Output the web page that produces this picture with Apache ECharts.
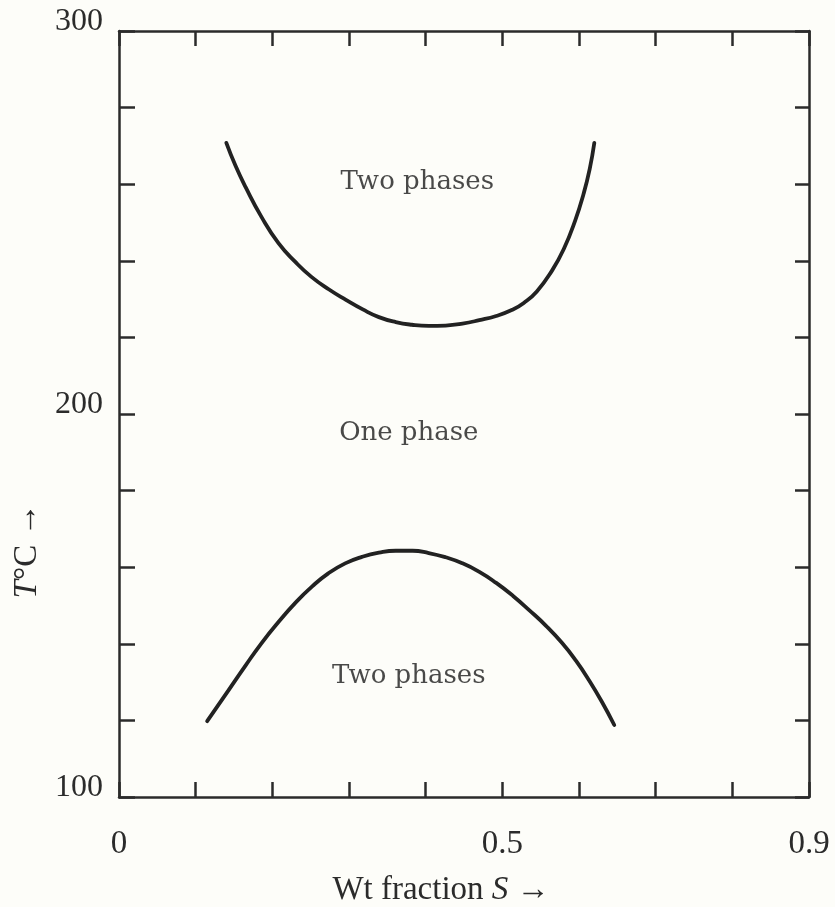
<!DOCTYPE html>
<html>
<head>
<meta charset="utf-8">
<script src="https://cdn.jsdelivr.net/npm/echarts@6/dist/echarts.min.js"></script>
<style>
html,body{margin:0;padding:0;background:#fdfdf9;}
#chart{width:835px;height:907px;}
</style>
</head>
<body>
<div id="chart"></div>
<script>
// Upper boundary (two phases above)
var upperS = [0.140, 0.152, 0.165, 0.186, 0.208, 0.230, 0.251, 0.274, 0.296, 0.318, 0.339, 0.361, 0.382, 0.404, 0.426, 0.448, 0.470, 0.492, 0.513, 0.528, 0.545, 0.565, 0.580, 0.595, 0.606, 0.614, 0.620];
var upperT = [270.8, 264.8, 259.3, 251.4, 244.6, 239.7, 235.8, 232.5, 229.8, 227.3, 225.3, 224.0, 223.3, 223.0, 223.1, 223.6, 224.5, 225.6, 227.2, 229.0, 232.0, 237.5, 243.0, 250.5, 257.5, 264.0, 270.8];
// Lower boundary (two phases below)
var lowerS = [0.115, 0.143, 0.165, 0.186, 0.208, 0.230, 0.252, 0.273, 0.295, 0.317, 0.339, 0.361, 0.383, 0.404, 0.426, 0.447, 0.470, 0.492, 0.514, 0.535, 0.557, 0.578, 0.596, 0.613, 0.630, 0.646];
var lowerT = [119.8, 127.9, 134.3, 140.2, 145.7, 150.7, 155.0, 158.4, 161.0, 162.7, 163.8, 164.3, 164.3, 163.7, 162.6, 161.1, 158.8, 155.9, 152.5, 148.8, 144.7, 140.2, 135.6, 130.5, 124.8, 118.8];
// Region annotations
var regionNames = ['Two phases', 'One phase', 'Two phases'];
var regionS = [0.389, 0.378, 0.378];
var regionT = [260.5, 195.0, 131.5];
// Tick labels
var xLabelValues = [0, 0.5, 0.9];
var yLabelValues = [100, 200, 300];

function pairs(xs, ys) { return xs.map(function (x, i) { return [x, ys[i]]; }); }
function isLabel(list, v) { return list.some(function (t) { return Math.abs(t - v) < 1e-9; }); }

var ink = '#2b2b2b';
var serif = '"Liberation Serif", "Times New Roman", serif';
var wide = '"DejaVu Serif", serif';

var chart = echarts.init(document.getElementById('chart'));
chart.setOption({
  backgroundColor: '#fdfdf9',
  animation: false,
  grid: { left: 119, right: 26, top: 31, bottom: 110, containLabel: false, outerBoundsMode: 'none' },
  xAxis: [{
    type: 'value', min: 0, max: 0.9, interval: 0.1, position: 'bottom',
    name: 'Wt fraction {i|S} →', nameLocation: 'middle', nameGap: 77,
    nameTextStyle: { fontFamily: serif, fontSize: 33, color: ink, padding: [0, 46, 0, 0],
      rich: { i: { fontFamily: serif, fontSize: 33, fontStyle: 'italic', color: ink } } },
    axisLine: { show: true, onZero: false, lineStyle: { color: ink, width: 2.5 } },
    axisTick: { show: true, inside: true, length: 15, lineStyle: { color: ink, width: 2.5 } },
    axisLabel: { show: true, margin: 31, fontFamily: serif, fontSize: 33, color: ink,
      formatter: function (v) { return isLabel(xLabelValues, v) ? String(v) : ''; } },
    splitLine: { show: false }
  }, {
    type: 'value', min: 0, max: 0.9, interval: 0.1, position: 'top',
    axisLine: { show: true, onZero: false, lineStyle: { color: ink, width: 2.5 } },
    axisTick: { show: true, inside: true, length: 15, lineStyle: { color: ink, width: 2.5 } },
    axisLabel: { show: false }, splitLine: { show: false }
  }],
  yAxis: [{
    type: 'value', min: 100, max: 300, interval: 20, position: 'left',
    name: '{i|T}°C →', nameLocation: 'middle', nameGap: 70, nameRotate: 90,
    nameTextStyle: { fontFamily: serif, fontSize: 33, color: ink, padding: [0, 274, 0, 0],
      rich: { i: { fontFamily: serif, fontSize: 33, fontStyle: 'italic', color: ink } } },
    axisLine: { show: true, onZero: false, lineStyle: { color: ink, width: 2.5 } },
    axisTick: { show: true, inside: true, length: 16, lineStyle: { color: ink, width: 2.5 } },
    axisLabel: { show: true, margin: 16, fontFamily: serif, fontSize: 32, color: ink,
      verticalAlign: 'bottom', lineHeight: 18,
      formatter: function (v) { return isLabel(yLabelValues, v) ? String(v) : ''; } },
    splitLine: { show: false }
  }, {
    type: 'value', min: 100, max: 300, interval: 20, position: 'right',
    axisLine: { show: true, onZero: false, lineStyle: { color: ink, width: 2.5 } },
    axisTick: { show: true, inside: true, length: 14, lineStyle: { color: ink, width: 2.5 } },
    axisLabel: { show: false }, splitLine: { show: false }
  }],
  series: [{
    type: 'line', xAxisIndex: 0, yAxisIndex: 0, smooth: 0.5, showSymbol: false, silent: true,
    lineStyle: { color: '#222', width: 3.8, cap: 'round', join: 'round' },
    data: pairs(upperS, upperT)
  }, {
    type: 'line', xAxisIndex: 0, yAxisIndex: 0, smooth: 0.5, showSymbol: false, silent: true,
    lineStyle: { color: '#222', width: 3.8, cap: 'round', join: 'round' },
    data: pairs(lowerS, lowerT)
  }, {
    type: 'scatter', xAxisIndex: 0, yAxisIndex: 0, symbolSize: 0, silent: true,
    label: { show: true, position: 'inside', fontFamily: wide, fontSize: 26, color: '#1c1c1c',
      formatter: function (p) { return p.name; } },
    data: regionNames.map(function (n, i) { return { name: n, value: [regionS[i], regionT[i]] }; })
  }]
});
</script>
</body>
</html>
